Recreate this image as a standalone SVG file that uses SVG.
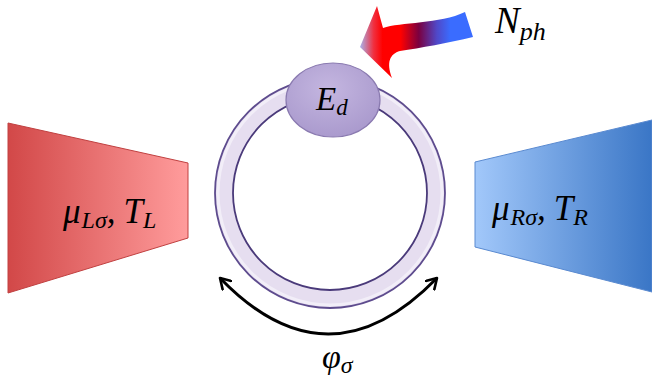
<svg xmlns="http://www.w3.org/2000/svg" width="652" height="385" viewBox="0 0 652 385">
<defs>
<linearGradient id="gL" x1="0" y1="0" x2="1" y2="0"><stop offset="0" stop-color="#d24848"/><stop offset="1" stop-color="#ff9c9c"/></linearGradient>
<linearGradient id="gR" x1="0" y1="0" x2="1" y2="0"><stop offset="0" stop-color="#a2c8fa"/><stop offset="1" stop-color="#3a76c6"/></linearGradient>
<linearGradient id="gA" gradientUnits="userSpaceOnUse" x1="360" y1="0" x2="473" y2="0"><stop offset="0" stop-color="#a8b4ec"/><stop offset="0.12" stop-color="#f03040"/><stop offset="0.2" stop-color="#ff0000"/><stop offset="0.36" stop-color="#ff0000"/><stop offset="0.52" stop-color="#7a0040"/><stop offset="0.68" stop-color="#5048c8"/><stop offset="0.8" stop-color="#3a6cff"/><stop offset="1" stop-color="#3a6cff"/></linearGradient>
<radialGradient id="gE" cx="0.45" cy="0.35" r="0.7"><stop offset="0" stop-color="#c4b6e0"/><stop offset="1" stop-color="#a898cc"/></radialGradient>
<marker id="ah" viewBox="0 0 14 14" refX="11" refY="7" markerWidth="14" markerHeight="14" markerUnits="userSpaceOnUse" orient="auto-start-reverse"><path d="M1,1 L11,7 L1,13" fill="none" stroke="#000" stroke-width="2.6" stroke-linecap="round" stroke-linejoin="round"/></marker>
<style>
.m{font-family:"Liberation Serif","DejaVu Serif",serif;font-style:italic;fill:#000}
</style>
</defs>
<g id="lead-left">
<polygon points="8,123 188,163 188,238 8,293" fill="url(#gL)" stroke="#c04040" stroke-width="1"/>
<text class="m" x="63" y="223" font-size="35">μ<tspan font-size="24" dy="5" dx="1">Lσ</tspan><tspan dy="-5">,</tspan><tspan dx="8">T</tspan><tspan font-size="24" dy="5">L</tspan></text>
</g>
<g id="lead-right">
<polygon points="475,162 652,120 652,292 475,247" fill="url(#gR)" stroke="#5a8ad0" stroke-width="1"/>
<text class="m" x="492" y="220" font-size="35">μ<tspan font-size="24" dy="5" dx="1">Rσ</tspan><tspan dy="-5">,</tspan><tspan dx="8">T</tspan><tspan font-size="24" dy="5">R</tspan></text>
</g>
<g id="ring">
<circle cx="330" cy="193" r="106" fill="none" stroke="#e6def0" stroke-width="18"/>
<circle cx="330" cy="193" r="112" fill="none" stroke="#f2eef8" stroke-width="3"/>
<circle cx="330" cy="193" r="115" fill="none" stroke="#5e4c8e" stroke-width="1.8"/>
<circle cx="330" cy="193" r="97" fill="none" stroke="#4a3a7a" stroke-width="1.8"/>
</g>
<g id="dot">
<ellipse cx="333" cy="100" rx="47" ry="37" fill="url(#gE)" stroke="#8a7ab0" stroke-width="1.2"/>
<text class="m" x="316" y="110" font-size="33">E<tspan font-size="23" dy="5">d</tspan></text>
</g>
<g id="photon">
<path d="M377,6 L383,28 C400,22 440,24 465,12 L473,37 C448,43 420,48 400,51 C390,54 386,62 392,78 L360,47 Z" fill="url(#gA)"/>
<text class="m" x="495" y="33" font-size="37">N<tspan font-size="26" dy="7">ph</tspan></text>
</g>
<g id="connectors">
<path d="M220,278 Q328,390 437,278" fill="none" stroke="#000" stroke-width="3" marker-start="url(#ah)" marker-end="url(#ah)"/>
</g>
<g id="phase">
<text class="m" x="322" y="368" font-size="34">φ<tspan font-size="24" dy="5">σ</tspan></text>
</g>
</svg>
